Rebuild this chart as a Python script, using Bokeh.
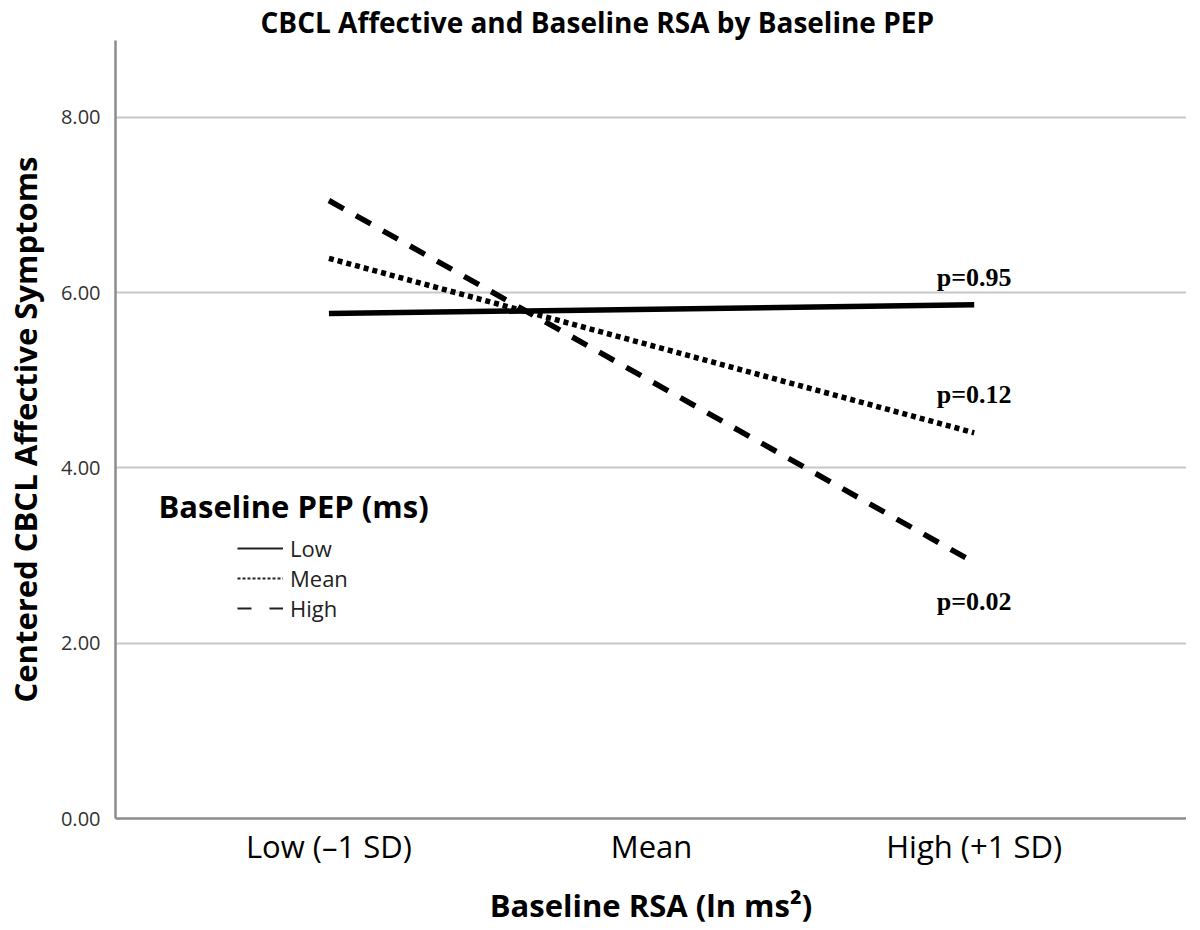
from bokeh.plotting import figure
from bokeh.models import (Range1d, FixedTicker, Label, Legend, LegendItem)
from bokeh.embed import file_html
from bokeh.resources import INLINE
from bokeh.core.properties import value

# ---------------- data ----------------
tick_labels = ["Low (\u20131 SD)", "Mean", "High (+1 SD)"]
rsa_positions = [0, 2]            # Low (-1 SD) and High (+1 SD) RSA
low_pep = [5.76, 5.86]
mean_pep = [6.39, 4.40]
high_pep = [7.05, 2.92]
series_names = ["Low", "Mean", "High"]
p_labels = ["p=0.95", "p=0.12", "p=0.02"]
p_label_y = [6.17, 4.84, 2.48]
y_ticks = [0, 2, 4, 6, 8]
title_text = "CBCL Affective and Baseline RSA by Baseline PEP"

SANS = "Open Sans"

p = figure(width=1186, height=930, output_backend="svg", toolbar_location=None,
           x_range=Range1d(-0.6615, 2.658), y_range=Range1d(0, 8.875),
           min_border_left=107, min_border_right=0, min_border_top=40,
           min_border_bottom=112)
p.outline_line_color = None
p.background_fill_color = "white"

# title
p.title.text = title_text
p.title.text_font = SANS
p.title.text_font_size = "28px"
p.title.text_font_style = "bold"
p.title.text_color = "black"
p.title.align = "left"
p.title.offset = 145
p.title.standoff = 0

# grid
p.xgrid.grid_line_color = None
p.ygrid.grid_line_color = "#c8c8c8"
p.ygrid.grid_line_width = 2
p.ygrid.ticker = FixedTicker(ticks=[2, 4, 6, 8])

# axes
xa = p.xaxis[0]
xa.ticker = FixedTicker(ticks=[0, 1, 2])
xa.major_label_overrides = {i: t for i, t in enumerate(tick_labels)}
xa.major_label_text_font = SANS
xa.major_label_text_font_size = "31px"
xa.major_label_text_color = "black"
xa.major_label_standoff = 0
xa.major_tick_line_color = None
xa.minor_tick_line_color = None
xa.axis_line_color = "#8c8c8c"
xa.axis_line_width = 2.5
xa.axis_label = "Baseline RSA (ln ms\u00b2)"
xa.axis_label_text_font = SANS
xa.axis_label_text_font_size = "31px"
xa.axis_label_text_font_style = "bold"
xa.axis_label_text_color = "black"
xa.axis_label_standoff = 14

ya = p.yaxis[0]
ya.ticker = FixedTicker(ticks=y_ticks)
ya.major_label_overrides = {v: f"{v:.2f}" for v in y_ticks}
ya.major_label_text_font = SANS
ya.major_label_text_font_size = "20px"
ya.major_label_text_color = "#333333"
ya.major_label_standoff = 9
ya.major_tick_line_color = None
ya.minor_tick_line_color = None
ya.axis_line_color = "#8c8c8c"
ya.axis_line_width = 2.5
ya.axis_label = "Centered CBCL Affective Symptoms"
ya.axis_label_text_font = SANS
ya.axis_label_text_font_size = "31px"
ya.axis_label_text_font_style = "bold"
ya.axis_label_text_color = "black"
ya.axis_label_standoff = 12

# lines
styles = [("solid", 5.5), ("5 4", 5.5), ("17 14", 5.5)]
for vals, (dash, w) in zip([low_pep, mean_pep, high_pep], styles):
    p.line(rsa_positions, vals, line_color="black", line_width=w,
           line_dash=dash, line_cap="butt")

# p-value labels
p.text(x=[2, 2, 2], y=p_label_y, text=p_labels,
       text_font=value("Liberation Serif"), text_font_style="bold",
       text_font_size="26px", text_align="center", text_baseline="middle",
       text_color="black")

# legend (thin sample lines drawn outside the visible range)
leg_styles = ["solid", "3 2", "14 18"]
items = []
for name, dash in zip(series_names, leg_styles):
    r = p.line(x=[-5, -4], y=[-5, -5], line_color="#222222", line_width=2,
               line_dash=dash)
    items.append(LegendItem(label=name, renderers=[r]))
legend = Legend(items=items, location=(122, 195), padding=0, spacing=0,
                glyph_width=46, glyph_height=24, label_height=24,
                label_standoff=7, border_line_alpha=0,
                background_fill_alpha=0,
                label_text_font=SANS, label_text_font_size="22px",
                label_text_color="#222222")
p.add_layout(legend, "center")

p.add_layout(Label(x=43, y=313, x_units="screen", y_units="screen",
                   text="Baseline PEP (ms)", text_font=SANS,
                   text_font_size="31px", text_font_style="bold",
                   text_baseline="middle", text_color="black"))

open("out.html", "w").write(file_html(p, INLINE))
